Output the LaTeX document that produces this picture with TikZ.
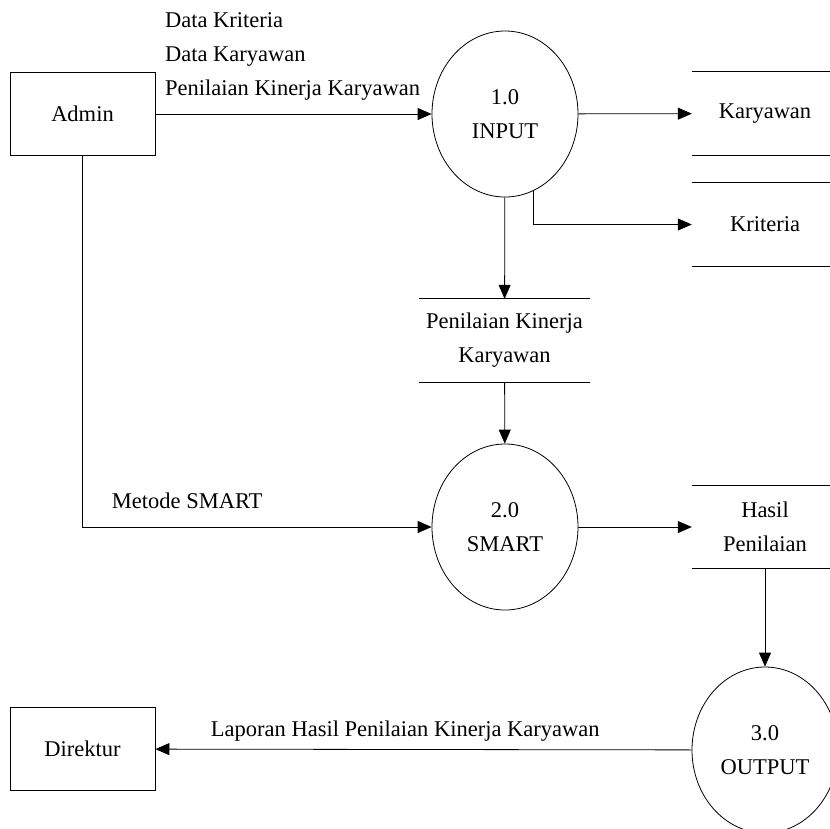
\documentclass[tikz,border=0pt]{standalone}
\usepackage{fontspec}
\setmainfont{Liberation Serif}
\usetikzlibrary{arrows.meta,shapes.geometric}
\begin{document}
\begin{tikzpicture}[x=1pt,y=-1pt,
    every node/.style={font=\fontsize{22.5}{34}\selectfont},
    entity/.style={draw,line width=0.8pt,minimum width=145pt,minimum height=83pt,inner sep=0pt},
    proc/.style={draw,ellipse,line width=0.8pt,minimum width=146pt,minimum height=166pt,inner sep=0pt,align=center},
    store/.style={minimum width=146pt,minimum height=83pt,inner sep=0pt,align=center},
    flow/.style={line width=0.8pt,-{Triangle[length=14pt,width=12pt]}}]
    \useasboundingbox (0,0) rectangle (830,828);
    \clip (0,0) rectangle (830,828);
    % entities and processes
    \node[entity] (admin) at (82.5,114) {Admin};
    \node[entity] (direktur) at (82.5,749) {Direktur};
    \node[proc] (inp) at (505,114) {1.0\\INPUT};
    \node[proc] (smart) at (505,527) {2.0\\SMART};
    \node[proc] (out) at (765,750) {3.0\\OUTPUT};
    % data stores
    \node[store] (kar) at (765,113.5) {Karyawan};
    \node[store] (kri) at (765,224.5) {Kriteria};
    \node[store,minimum width=171pt] (pkk) at (504.5,340.5) {Penilaian Kinerja\\Karyawan};
    \node[store] (hasil) at (765,527) {Hasil\\Penilaian};
    \foreach \s in {kar,kri,pkk,hasil}
        \draw[line width=0.8pt] (\s.north west) -- (\s.north east) (\s.south west) -- (\s.south east);
    % flows
    \draw[flow] (admin) -- (inp) node[pos=0,above right,align=left,xshift=6pt,yshift=10pt]{Data Kriteria\\Data Karyawan\\Penilaian Kinerja Karyawan};
    \draw[flow] (inp) -- (kar);
    \draw[flow] (inp.-70) |- (kri.west);
    \draw[flow] (inp) -- (pkk);
    \draw[flow] (pkk) -- (smart);
    \draw[flow] (admin) |- (smart) node[pos=0.65,above,yshift=15pt]{Metode SMART};
    \draw[flow] (smart) -- (hasil);
    \draw[flow] (hasil) -- (out);
    \draw[flow] (out) -- (direktur) node[pos=0.534,above,yshift=4pt]{Laporan Hasil Penilaian Kinerja Karyawan};
\end{tikzpicture}
\end{document}
